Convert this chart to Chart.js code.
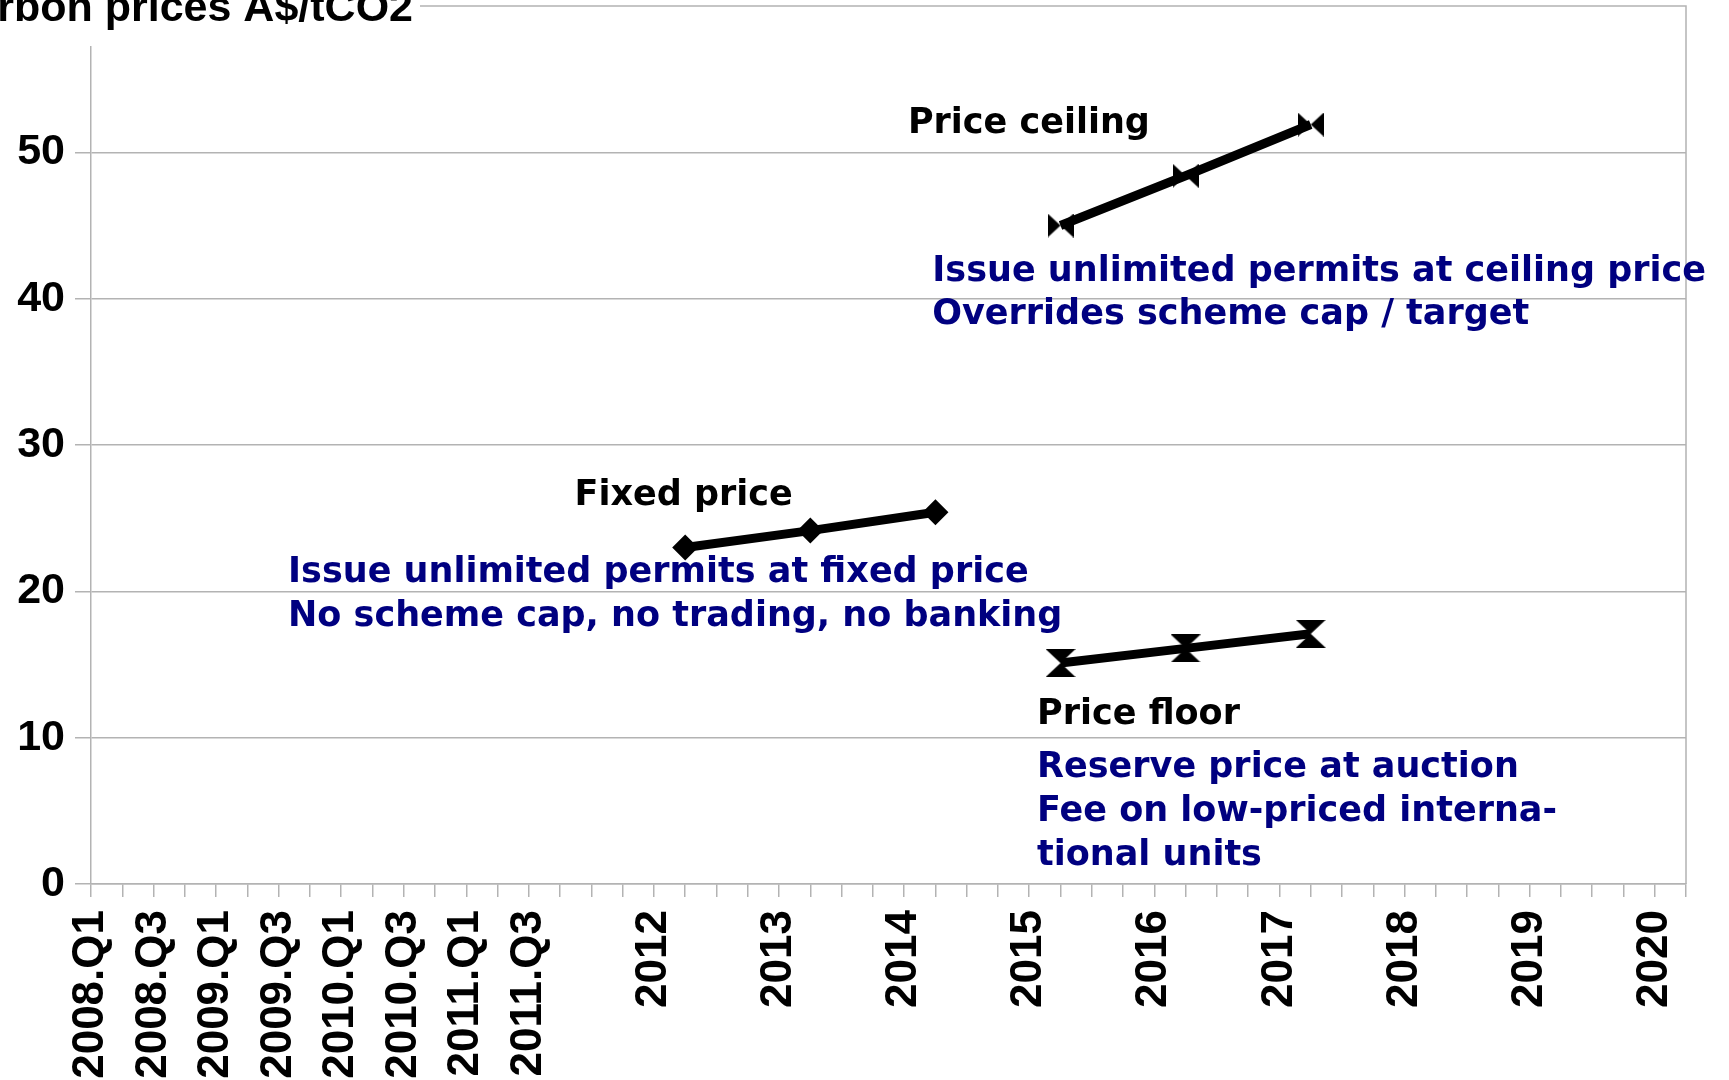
<!DOCTYPE html>
<html>
<head>
<meta charset="utf-8">
<title>Carbon prices A$/tCO2</title>
<script src="https://cdn.jsdelivr.net/npm/chart.js@4.4.1/dist/chart.umd.min.js"></script>
<style>
  html, body { margin: 0; padding: 0; background: #fff; }
</style>
</head>
<body>
<canvas id="carbonChart" width="1729" height="1080"></canvas>
<script>
// Categories: one per quarter, 2008.Q1 .. 2020.Q4
const years = [2008, 2009, 2010, 2011, 2012, 2013, 2014, 2015, 2016, 2017, 2018, 2019, 2020];
const quarters = [];
years.forEach(yr => ["Q1", "Q2", "Q3", "Q4"].forEach(q => quarters.push(yr + "." + q)));

// What is printed under each quarter tick
const tickLabels = [
  "2008.Q1", "", "2008.Q3", "", "2009.Q1", "", "2009.Q3", "",
  "2010.Q1", "", "2010.Q3", "", "2011.Q1", "", "2011.Q3", "",
  "", "", "2012", "", "", "", "2013", "", "", "", "2014", "",
  "", "", "2015", "", "", "", "2016", "", "", "", "2017", "",
  "", "", "2018", "", "", "", "2019", "", "", "", "2020", ""
];

// Series (A$/tCO2)
const fixedQuarters = ["2012.Q4", "2013.Q4", "2014.Q4"];
const fixedPrice = [23.0, 24.15, 25.4];
const ceilingQuarters = ["2015.Q4", "2016.Q4", "2017.Q4"];
const ceilingPrice = [45.0, 48.4, 51.9];
const floorQuarters = ["2015.Q4", "2016.Q4", "2017.Q4"];
const floorPrice = [15.1, 16.1, 17.1];

const titleText = "Carbon prices A$/tCO2";

// Text boxes on the plot, anchored in axis units (quarter index, price)
const notes = [
  { text: "Price ceiling", x: 26.12, y: 51.35, color: "#000000" },
  { text: "Issue unlimited permits at ceiling price", x: 26.9, y: 41.23, color: "#000080" },
  { text: "Overrides scheme cap / target", x: 26.9, y: 38.29, color: "#000080" },
  { text: "Fixed price", x: 15.46, y: 25.87, color: "#000000" },
  { text: "Issue unlimited permits at fixed price", x: 6.3, y: 20.65, color: "#000080" },
  { text: "No scheme cap, no trading, no banking", x: 6.3, y: 17.64, color: "#000080" },
  { text: "Price floor", x: 30.25, y: 10.94, color: "#000000" },
  { text: "Reserve price at auction", x: 30.25, y: 7.32, color: "#000080" },
  { text: "Fee on low-priced interna-", x: 30.25, y: 4.31, color: "#000080" },
  { text: "tional units", x: 30.25, y: 1.30, color: "#000080" }
];

const gridColor = "#b3b3b3";

function toPoints(cats, vals) {
  return cats.map((c, i) => ({ x: c, y: vals[i] }));
}

// custom markers: bow tie (ceiling) and hourglass (floor)
function makeMarker(kind, w, h) {
  const c = document.createElement("canvas");
  c.width = w; c.height = h;
  const g = c.getContext("2d");
  g.fillStyle = "#000";
  g.beginPath();
  if (kind === "bowtie") {
    g.moveTo(0, 0); g.lineTo(w / 2, h / 2); g.lineTo(0, h); g.closePath();
    g.moveTo(w, 0); g.lineTo(w / 2, h / 2); g.lineTo(w, h); g.closePath();
  } else {
    g.moveTo(0, 0); g.lineTo(w, 0); g.lineTo(w / 2, h / 2); g.closePath();
    g.moveTo(0, h); g.lineTo(w, h); g.lineTo(w / 2, h / 2); g.closePath();
  }
  g.fill();
  return c;
}

const decorPlugin = {
  id: "decor",
  beforeDatasetsDraw(chart) {
    const { ctx, chartArea: a } = chart;
    ctx.save();
    ctx.strokeStyle = gridColor;
    ctx.lineWidth = 1.5;
    ctx.beginPath();
    ctx.moveTo(a.left, a.top);
    ctx.lineTo(a.right, a.top);
    ctx.lineTo(a.right, a.bottom);
    ctx.stroke();
    ctx.restore();
  },
  afterDraw(chart) {
    const { ctx, scales: { x, y } } = chart;
    ctx.save();
    ctx.font = 'bold 35px "DejaVu Sans"';
    ctx.textAlign = "left";
    ctx.textBaseline = "alphabetic";
    notes.forEach(n => {
      ctx.fillStyle = n.color;
      ctx.fillText(n.text, x.getPixelForValue(n.x), y.getPixelForValue(n.y));
    });
    // title sits on a white box over the top-left corner
    ctx.fillStyle = "#fff";
    ctx.fillRect(0, 0, 420, 46);
    ctx.fillStyle = "#000";
    ctx.font = 'bold 43px "Liberation Sans"';
    ctx.textAlign = "right";
    ctx.fillText(titleText, 413, 21);
    ctx.restore();
  }
};

const ctx = document.getElementById("carbonChart").getContext("2d");

const lineStyle = {
  borderColor: "#000",
  borderWidth: 9,
  backgroundColor: "#000",
  pointBackgroundColor: "#000",
  pointBorderColor: "#000",
  tension: 0,
  fill: false
};

new Chart(ctx, {
  type: "line",
  data: {
    labels: quarters,
    datasets: [
      Object.assign({ label: "Fixed price", data: toPoints(fixedQuarters, fixedPrice),
        pointStyle: "rectRot", pointRadius: 13, pointBorderWidth: 0 }, lineStyle),
      Object.assign({ label: "Price ceiling", data: toPoints(ceilingQuarters, ceilingPrice),
        pointStyle: makeMarker("bowtie", 26, 24) }, lineStyle),
      Object.assign({ label: "Price floor", data: toPoints(floorQuarters, floorPrice),
        pointStyle: makeMarker("hourglass", 30, 28) }, lineStyle)
    ]
  },
  options: {
    responsive: false,
    animation: false,
    layout: { autoPadding: false, padding: { top: 6, right: 43, left: 0, bottom: 0 } },
    plugins: {
      legend: { display: false },
      tooltip: { enabled: false },
      title: { display: false }
    },
    scales: {
      x: {
        type: "category",
        offset: false,
        grid: { display: true, drawOnChartArea: false, drawTicks: true, tickLength: 13, color: gridColor, lineWidth: 1.5 },
        border: { display: true, color: gridColor, width: 1.5 },
        ticks: {
          autoSkip: false,
          minRotation: 90,
          maxRotation: 90,
          padding: 13,
          color: "#000",
          font: { family: "Liberation Sans", size: 44, weight: "bold" },
          callback: (v, i) => tickLabels[i]
        },
        afterFit: s => { s.height = 196; s.paddingLeft = 0; s.paddingRight = 0; }
      },
      y: {
        min: 0,
        max: 60,
        grid: { color: gridColor, lineWidth: 1.5, tickLength: 16 },
        border: { display: true, color: gridColor, width: 1.5 },
        ticks: {
          stepSize: 10,
          padding: 10,
          color: "#000",
          font: { family: "Liberation Sans", size: 43, weight: "bold" },
          callback: v => (v === 60 ? null : v)
        },
        afterFit: s => { s.width = 91; s.paddingTop = 0; s.paddingBottom = 0; }
      }
    }
  },
  plugins: [decorPlugin]
});
</script>
</body>
</html>
